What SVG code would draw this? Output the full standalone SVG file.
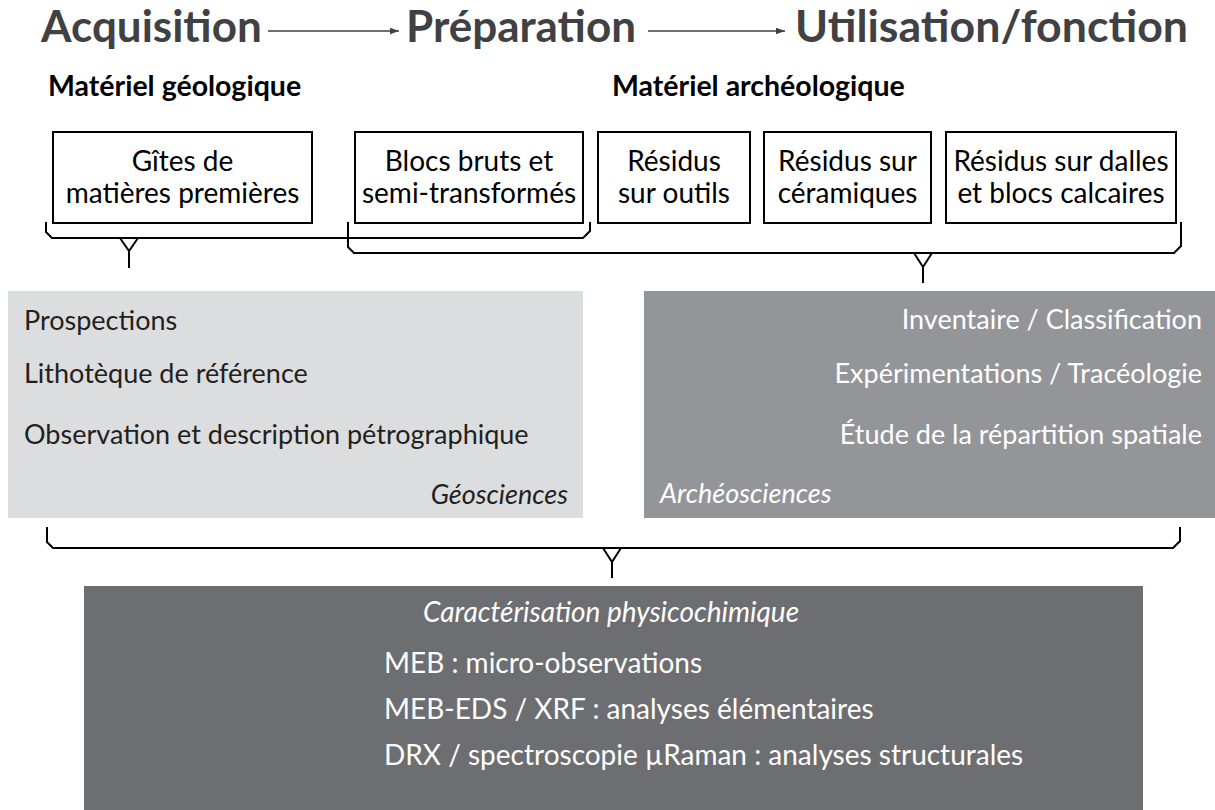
<svg xmlns="http://www.w3.org/2000/svg" width="1215" height="810" viewBox="0 0 1215 810">
<defs>
<marker id="ah" viewBox="0 0 10 10" refX="10" refY="5" markerWidth="10" markerHeight="9" markerUnits="userSpaceOnUse" orient="auto">
<path d="M0,1.5 L10,5 L0,8.5 Z" fill="#414042"/>
</marker>
<style>
text{font-family:Lato,"Open Sans","Liberation Sans",sans-serif;}
.title{font-size:44px;font-weight:bold;fill:#414042;}
.sub{font-size:28.5px;font-weight:bold;fill:#000;}
.box{fill:#fff;stroke:#000;stroke-width:2;}
.bt{font-size:28px;fill:#000;text-anchor:middle;}
.pt{font-size:27px;fill:#231f20;}
.wt{font-size:27px;fill:#fff;}
.bw{font-size:28px;fill:#fff;}
.it{font-style:italic;}
.br{fill:none;stroke:#000;stroke-width:2;}
.ar{stroke:#414042;stroke-width:1.6;fill:none;}
</style>
</defs>
<rect width="1215" height="810" fill="#fff"/>
<g id="titles">
<text class="title" x="41" y="42">Acquisition</text>
<text class="title" x="406" y="42">Préparation</text>
<text class="title" x="795" y="42" textLength="393" lengthAdjust="spacingAndGlyphs">Utilisation/fonction</text>
<text class="sub" x="48" y="96">Matériel géologique</text>
<text class="sub" x="612" y="96">Matériel archéologique</text>
</g>
<g id="box1"><rect class="box" x="53" y="132" width="259" height="91"/><text class="bt" x="182.5" y="171">Gîtes de</text><text class="bt" x="182.5" y="203">matières premières</text></g>
<g id="box2"><rect class="box" x="355" y="132" width="228" height="91"/><text class="bt" x="469" y="171">Blocs bruts et</text><text class="bt" x="469" y="203">semi-transformés</text></g>
<g id="box3"><rect class="box" x="598" y="132" width="152" height="91"/><text class="bt" x="674" y="171">Résidus</text><text class="bt" x="674" y="203">sur outils</text></g>
<g id="box4"><rect class="box" x="764" y="132" width="167" height="91"/><text class="bt" x="847.5" y="171">Résidus sur</text><text class="bt" x="847.5" y="203">céramiques</text></g>
<g id="box5"><rect class="box" x="946" y="132" width="230" height="91"/><text class="bt" x="1061" y="171">Résidus sur dalles</text><text class="bt" x="1061" y="203">et blocs calcaires</text></g>
<g id="geo">
<rect x="8" y="291" width="575" height="227" fill="#dcddde"/>
<text class="pt" x="24" y="330">Prospections</text>
<text class="pt" x="24" y="383">Lithotèque de référence</text>
<text class="pt" x="24" y="444">Observation et description pétrographique</text>
<text class="pt it" x="568" y="504" text-anchor="end">Géosciences</text>
</g>
<g id="archeo">
<rect x="644" y="291" width="571" height="227" fill="#939598"/>
<text class="wt" x="1202" y="329" text-anchor="end">Inventaire / Classification</text>
<text class="wt" x="1202" y="383" text-anchor="end">Expérimentations / Tracéologie</text>
<text class="wt" x="1202" y="444" text-anchor="end">Étude de la répartition spatiale</text>
<text class="wt it" x="660" y="503">Archéosciences</text>
</g>
<g id="physchem">
<rect x="84" y="586" width="1059" height="224" fill="#6d6e71"/>
<text class="bw it" x="423" y="622">Caractérisation physicochimique</text>
<text class="bw" x="384" y="673">MEB : micro-observations</text>
<text class="bw" x="384" y="719">MEB-EDS / XRF : analyses élémentaires</text>
<text class="bw" x="384" y="765">DRX / spectroscopie µRaman : analyses structurales</text>
</g>
<g id="connectors">
<line class="ar" x1="268" y1="31" x2="399" y2="31" marker-end="url(#ah)"/>
<line class="ar" x1="648" y1="31" x2="785" y2="31" marker-end="url(#ah)"/>
<path class="br" d="M46,222 V232 L52,238 H583 L590,231 V222"/>
<path class="br" d="M120,238 L129,251 L138,238 M129,251 V268"/>
<path class="br" d="M348,222 V247 L354,253 H1174 L1181,246 V222"/>
<path class="br" d="M914,253 L923,267 L932,253 M923,267 V283"/>
<path class="br" d="M47,527 V542 L53,548 H1173 L1180,541 V527"/>
<path class="br" d="M603,548 L612,562 L621,548 M612,562 V578"/>
</g>
</svg>
